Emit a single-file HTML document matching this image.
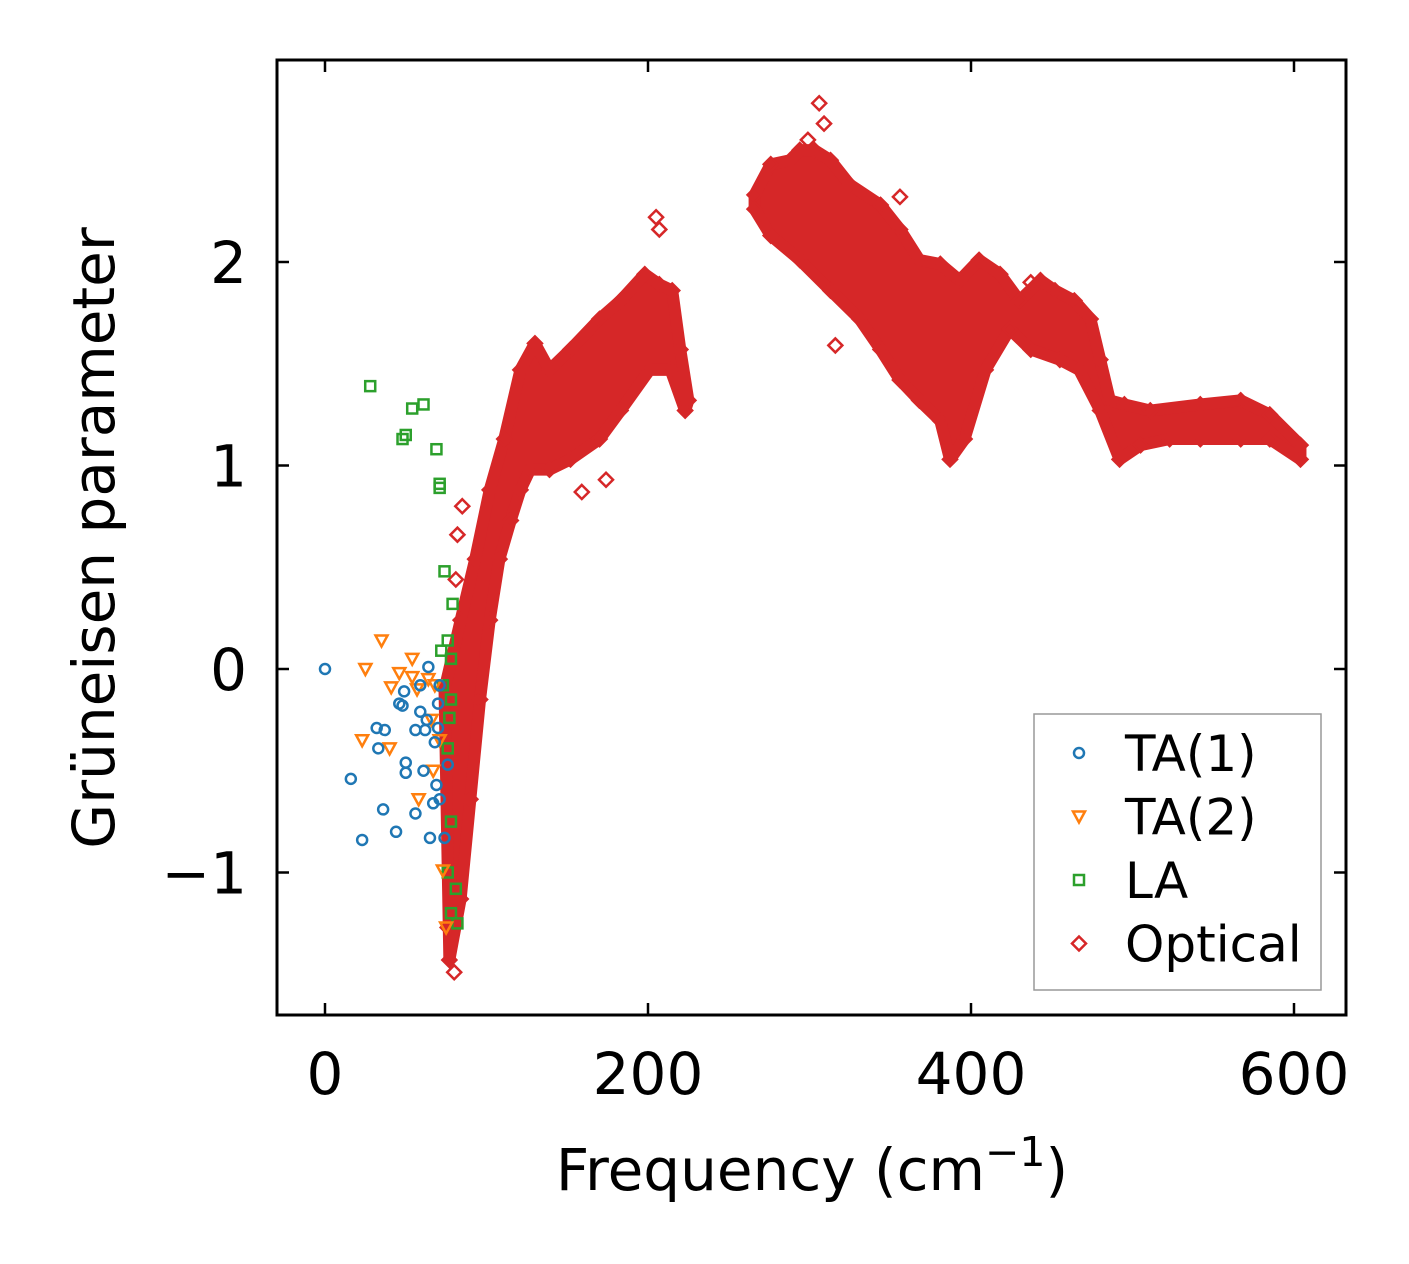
<!DOCTYPE html>
<html><head><meta charset="utf-8"><style>
body{margin:0;background:#fff}
svg{display:block;font-family:"DejaVu Sans","Liberation Sans",sans-serif}
</style></head><body>
<svg id="chart" width="1409" height="1264" viewBox="0 0 1409 1264">
<g id="plot"></g>
<g id="axes"></g>
</svg>
<script>
const xTicks=[0,200,400,600];
const yTicks=[-1,0,1,2];
const yTickLabels=["\u22121","0","1","2"];
const ta1F=[0,16,23,32,33,36,37,44,46,48,49,50,50,56,56,59,59,61,62,63,64,65,67,68,69,70,70,71,76,74,71];
const ta1G=[0,-0.54,-0.84,-0.29,-0.39,-0.69,-0.3,-0.8,-0.17,-0.18,-0.11,-0.46,-0.51,-0.3,-0.71,-0.08,-0.21,-0.5,-0.3,-0.25,0.01,-0.83,-0.66,-0.36,-0.57,-0.29,-0.17,-0.08,-0.47,-0.83,-0.64];
const ta2F=[25,35,23,40,41,46,54,57,54,58,64,66,71,68,73,75,67];
const ta2G=[0,0.14,-0.35,-0.39,-0.09,-0.02,0.05,-0.1,-0.04,-0.64,-0.05,-0.25,-0.35,-0.08,-0.99,-1.27,-0.5];
const laF=[28,54,61,50,48,69,71,71,74,76,79,72,78,73,77,76,78,81,78,76,82,78];
const laG=[1.39,1.28,1.3,1.15,1.13,1.08,0.91,0.89,0.48,0.14,0.32,0.09,0.05,-0.08,-0.24,-0.39,-0.75,-1.08,-1.2,-1,-1.25,-0.15];
const b1LoF=[77,84,90,96,102,108,115,121,127,139,152,170,183,201,214,223];
const b1LoG=[-1.43,-1.13,-0.64,-0.15,0.24,0.54,0.73,0.88,0.98,0.98,1.03,1.13,1.27,1.47,1.47,1.27];
const b1HiF=[74,84,93,102,111,121,130,139,152,170,183,198,207,215,220,225];
const b1HiG=[-0.1,0.24,0.54,0.88,1.13,1.47,1.6,1.47,1.57,1.72,1.81,1.94,1.89,1.86,1.57,1.32];
const b2HiF=[266,276,288,294,303,313,325,344,356,368,381,393,405,418,430,443,452,464,474,480,486,495,511,542,567,585,604];
const b2HiG=[2.33,2.48,2.5,2.55,2.55,2.5,2.38,2.28,2.16,2.01,1.99,1.91,2.01,1.94,1.81,1.91,1.86,1.81,1.72,1.52,1.32,1.3,1.27,1.3,1.32,1.25,1.1];
const b2LoF=[266,276,294,313,331,344,356,368,381,387,396,409,424,437,455,467,480,492,505,523,542,567,585,604];
const b2LoG=[2.26,2.13,2.01,1.86,1.72,1.57,1.42,1.32,1.22,1.03,1.13,1.47,1.67,1.57,1.52,1.47,1.27,1.03,1.1,1.13,1.13,1.13,1.13,1.03];
const optF=[159,174,85,82,81,205,306,299,356,316,437,467,80,76,207,309];
const optG=[0.87,0.93,0.8,0.66,0.44,2.22,2.78,2.6,2.32,1.59,1.9,1.76,-1.49,-1.27,2.16,2.68];

const X0=277,X1=1346,Y0=60,Y1=1015;
const xS=v=>325+v*1.615;
const yS=v=>669-v*203.5;
const NS="http://www.w3.org/2000/svg";
const plot=document.getElementById('plot'),axes=document.getElementById('axes');
function mk(t,a,p){const e=document.createElementNS(NS,t);for(const k in a)e.setAttribute(k,a[k]);(p||plot).appendChild(e);return e;}
const RED="#d62728",BLUE="#1f77b4",ORANGE="#ff7f0e",GREEN="#2ca02c";
function marker(kind,x,y,col,p){
  let e;
  if(kind==='o')e=mk('circle',{cx:x,cy:y,r:5,fill:'none',stroke:col,'stroke-width':2.5},p);
  else if(kind==='v')e=mk('polygon',{points:`${x-6},${y-5} ${x+6},${y-5} ${x},${y+6}`,fill:'none',stroke:col,'stroke-width':2.5},p);
  else if(kind==='s')e=mk('rect',{x:x-5,y:y-5,width:10,height:10,fill:'none',stroke:col,'stroke-width':2.5},p);
  else e=mk('polygon',{points:`${x},${y-7} ${x+7},${y} ${x},${y+7} ${x-7},${y}`,fill:'none',stroke:col,'stroke-width':2.5},p);
  return e;
}
function band(loF,loG,hiF,hiG,name){
  let pts=[];
  for(let i=0;i<hiF.length;i++)pts.push(xS(hiF[i])+','+yS(hiG[i]));
  for(let i=loF.length-1;i>=0;i--)pts.push(xS(loF[i])+','+yS(loG[i]));
  const e=mk('polygon',{points:pts.join(' '),fill:RED,stroke:RED,'stroke-width':12,'stroke-linejoin':'round'});
  
  
  for(let i=0;i<hiF.length;i++){const m=marker('d',xS(hiF[i]),yS(hiG[i]),RED);
    
    }
  for(let i=0;i<loF.length;i++){const m=marker('d',xS(loF[i]),yS(loG[i]),RED);
    
    }
}
band(b1LoF,b1LoG,b1HiF,b1HiG,'optical-band-low');
band(b2LoF,b2LoG,b2HiF,b2HiG,'optical-band-high');
for(let i=0;i<optF.length;i++){const m=marker('d',xS(optF[i]),yS(optG[i]),RED);
  
  }
for(let i=0;i<laF.length;i++){const m=marker('s',xS(laF[i]),yS(laG[i]),GREEN);
  
  }
for(let i=0;i<ta2F.length;i++){const m=marker('v',xS(ta2F[i]),yS(ta2G[i]),ORANGE);
  
  }
for(let i=0;i<ta1F.length;i++){const m=marker('o',xS(ta1F[i]),yS(ta1G[i]),BLUE);
  
  }

const fr=mk('rect',{x:X0,y:Y0,width:X1-X0,height:Y1-Y0,fill:'none',stroke:'#000','stroke-width':3},axes);


xTicks.forEach(v=>{const x=xS(v);
  mk('line',{x1:x,x2:x,y1:Y1,y2:Y1-12,stroke:'#000','stroke-width':2.5},axes);
  mk('line',{x1:x,x2:x,y1:Y0,y2:Y0+12,stroke:'#000','stroke-width':2.5},axes);
  const t=mk('text',{x:x,y:1094,'font-size':58,'text-anchor':'middle'},axes);t.textContent=v;
  
  });
yTicks.forEach((v,i)=>{const y=yS(v);
  mk('line',{x1:X0,x2:X0+12,y1:y,y2:y,stroke:'#000','stroke-width':2.5},axes);
  mk('line',{x1:X1,x2:X1-12,y1:y,y2:y,stroke:'#000','stroke-width':2.5},axes);
  const t=mk('text',{x:247,y:y+21,'font-size':58,'text-anchor':'end'},axes);t.textContent=yTickLabels[i];
  
  });
const xl=mk('text',{x:812,y:1190,'font-size':58,'text-anchor':'middle'},axes);
xl.innerHTML='Frequency (cm<tspan dy="-24" font-size="41">\u22121</tspan><tspan dy="24">)</tspan>';


const yl=mk('text',{x:0,y:0,'font-size':58,'text-anchor':'middle',transform:'translate(114,538) rotate(-90)'},axes);
yl.textContent='Grüneisen parameter';


const lg=mk('g',{},axes);


mk('rect',{x:1034,y:714,width:287,height:276,fill:'#fff',stroke:'#999','stroke-width':1.5},lg);
const ents=[['o',BLUE,'TA(1)'],['v',ORANGE,'TA(2)'],['s',GREEN,'LA'],['d',RED,'Optical']];
ents.forEach((e,i)=>{const y=753+i*63.5;
  marker(e[0],1079,y,e[1],lg);
  const t=mk('text',{x:1125,y:y+18,'font-size':50},lg);t.textContent=e[2];
  
  });
</script>
</body></html>
